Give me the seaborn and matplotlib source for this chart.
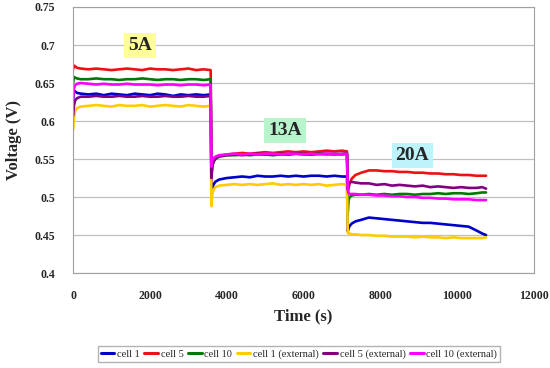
import matplotlib
matplotlib.use("Agg")
import matplotlib.pyplot as plt
import pandas as pd
import seaborn as sns

# time points (s) for each current step
t_5a = [0, 20, 50, 100, 200, 400, 600, 800, 1000, 1200, 1400, 1600, 1800, 2000,
        2200, 2400, 2600, 2800, 3000, 3200, 3400, 3580]
t_13a = [3600, 3620, 3650, 3700, 3800, 4000, 4200, 4400, 4600, 4800, 5000, 5200,
         5400, 5600, 5800, 6000, 6200, 6400, 6600, 6800, 7000, 7130]
t_20a = [7150, 7170, 7200, 7250, 7350, 7500, 7700, 7900, 8100, 8300, 8500, 8700,
         8900, 9100, 9300, 9500, 9700, 9900, 10100, 10300, 10500, 10650, 10750]

# cell 1
cell1_5a = [0.628, 0.640, 0.639, 0.637, 0.636, 0.635, 0.636, 0.634, 0.636, 0.635, 0.634,
            0.636, 0.635, 0.634, 0.636, 0.635, 0.633, 0.635, 0.634, 0.635, 0.634, 0.635]
cell1_13a = [0.500, 0.510, 0.516, 0.520, 0.523, 0.525, 0.526, 0.527, 0.526, 0.528, 0.527,
             0.527, 0.528, 0.527, 0.528, 0.527, 0.528, 0.528, 0.527, 0.528, 0.527, 0.527]
cell1_20a = [0.455, 0.459, 0.462, 0.465, 0.468, 0.470, 0.473, 0.472, 0.471, 0.470, 0.469, 0.468,
             0.467, 0.466, 0.466, 0.465, 0.464, 0.463, 0.462, 0.461, 0.456, 0.452, 0.450]
# cell 5
cell5_5a = [0.668, 0.673, 0.672, 0.670, 0.669, 0.668, 0.669, 0.668, 0.667, 0.668, 0.669,
            0.668, 0.667, 0.669, 0.668, 0.668, 0.667, 0.668, 0.669, 0.667, 0.668, 0.667]
cell5_13a = [0.530, 0.540, 0.546, 0.550, 0.554, 0.556, 0.557, 0.558, 0.557, 0.558, 0.559,
             0.558, 0.559, 0.560, 0.559, 0.560, 0.559, 0.560, 0.561, 0.560, 0.561, 0.560]
cell5_20a = [0.505, 0.512, 0.518, 0.524, 0.529, 0.532, 0.535, 0.535, 0.534, 0.534, 0.533, 0.533,
             0.532, 0.532, 0.531, 0.531, 0.530, 0.530, 0.529, 0.529, 0.528, 0.528, 0.528]
# cell 10
cell10_5a = [0.650, 0.658, 0.657, 0.656, 0.655, 0.655, 0.656, 0.655, 0.655, 0.654, 0.655,
             0.655, 0.656, 0.655, 0.654, 0.655, 0.655, 0.654, 0.655, 0.655, 0.654, 0.655]
cell10_13a = [0.528, 0.540, 0.546, 0.550, 0.553, 0.555, 0.555, 0.556, 0.555, 0.556, 0.556,
              0.555, 0.556, 0.556, 0.557, 0.556, 0.556, 0.557, 0.556, 0.557, 0.556, 0.557]
cell10_20a = [0.480, 0.496, 0.500, 0.502, 0.503, 0.503, 0.504, 0.503, 0.504, 0.503, 0.504, 0.504,
              0.503, 0.504, 0.504, 0.505, 0.504, 0.505, 0.505, 0.504, 0.505, 0.506, 0.506]
# cell 1 (external)
ext1_5a = [0.588, 0.605, 0.613, 0.617, 0.619, 0.620, 0.621, 0.620, 0.619, 0.621, 0.620,
           0.620, 0.621, 0.619, 0.620, 0.621, 0.620, 0.619, 0.621, 0.620, 0.619, 0.620]
ext1_13a = [0.488, 0.503, 0.509, 0.513, 0.515, 0.516, 0.517, 0.516, 0.517, 0.516, 0.517,
            0.518, 0.516, 0.517, 0.516, 0.517, 0.516, 0.517, 0.515, 0.516, 0.517, 0.516]
ext1_20a = [0.453, 0.452, 0.452, 0.451, 0.451, 0.450, 0.450, 0.449, 0.449, 0.448, 0.448, 0.448,
            0.447, 0.448, 0.447, 0.447, 0.446, 0.447, 0.446, 0.446, 0.446, 0.446, 0.447]
# cell 5 (external)
ext5_5a = [0.607, 0.620, 0.627, 0.630, 0.632, 0.632, 0.633, 0.632, 0.632, 0.633, 0.632,
           0.632, 0.633, 0.632, 0.632, 0.633, 0.632, 0.632, 0.633, 0.632, 0.632, 0.633]
ext5_13a = [0.525, 0.540, 0.547, 0.551, 0.554, 0.555, 0.556, 0.555, 0.556, 0.557, 0.556,
            0.556, 0.557, 0.556, 0.557, 0.557, 0.556, 0.557, 0.557, 0.556, 0.557, 0.557]
ext5_20a = [0.510, 0.516, 0.519, 0.520, 0.519, 0.518, 0.518, 0.516, 0.517, 0.515, 0.516, 0.515,
            0.514, 0.515, 0.513, 0.514, 0.513, 0.512, 0.513, 0.512, 0.512, 0.513, 0.511]
# cell 10 (external)
ext10_5a = [0.630, 0.643, 0.647, 0.649, 0.650, 0.649, 0.648, 0.649, 0.648, 0.648, 0.649,
            0.648, 0.648, 0.648, 0.647, 0.648, 0.648, 0.647, 0.648, 0.648, 0.647, 0.648]
ext10_13a = [0.540, 0.548, 0.551, 0.553, 0.555, 0.556, 0.557, 0.556, 0.557, 0.556, 0.557,
             0.557, 0.556, 0.557, 0.557, 0.556, 0.557, 0.556, 0.557, 0.557, 0.556, 0.557]
ext10_20a = [0.510, 0.505, 0.504, 0.504, 0.504, 0.503, 0.503, 0.502, 0.502, 0.501, 0.501, 0.500,
             0.500, 0.499, 0.499, 0.498, 0.498, 0.497, 0.497, 0.497, 0.496, 0.496, 0.496]

series = {
    "cell 1": (cell1_5a, cell1_13a, cell1_20a),
    "cell 5": (cell5_5a, cell5_13a, cell5_20a),
    "cell 10": (cell10_5a, cell10_13a, cell10_20a),
    "cell 1 (external)": (ext1_5a, ext1_13a, ext1_20a),
    "cell 5 (external)": (ext5_5a, ext5_13a, ext5_20a),
    "cell 10 (external)": (ext10_5a, ext10_13a, ext10_20a),
}
colors = ["#0000cc", "#ee1111", "#007a00", "#ffcc00", "#800080", "#ff00ff"]

times = t_5a + t_13a + t_20a
rows = []
for name, parts in series.items():
    vals = parts[0] + parts[1] + parts[2]
    for t, v in zip(times, vals):
        rows.append({"time": t, "voltage": v, "cell": name})
df = pd.DataFrame(rows)

sns.set_style("white")
plt.rcParams["font.family"] = ["Liberation Serif", "DejaVu Serif"]
plt.rcParams["font.weight"] = "bold"

fig = plt.figure(figsize=(5.5, 3.68), dpi=100)
ax = fig.add_axes([0.133, 0.258, 0.838, 0.723])
sns.lineplot(data=df, x="time", y="voltage", hue="cell", palette=colors,
             linewidth=1.9, ax=ax, legend=True)

ax.set_xlim(0, 12000)
ax.set_ylim(0.4, 0.75)
ax.set_xticks(range(0, 12001, 2000))
ax.set_yticks([0.4, 0.45, 0.5, 0.55, 0.6, 0.65, 0.7, 0.75])
ax.set_yticklabels(["0.4", "0.45", "0.5", "0.55", "0.6", "0.65", "0.7", "0.75"])
ax.yaxis.grid(True, color="#c0c0c0", linewidth=0.9)
for s in ax.spines.values():
    s.set_color("#a0a0a0")
ax.tick_params(axis="x", direction="in", length=3, color="#a0a0a0", labelsize=8.5, pad=12)
ax.tick_params(axis="y", length=0, labelsize=8.5, pad=13)
for lbl in ax.get_xticklabels() + ax.get_yticklabels():
    lbl.set_fontweight("bold")
ax.set_xlabel("Time (s)", fontsize=12, fontweight="bold", labelpad=5)
ax.set_ylabel("Voltage (V)", fontsize=12, fontweight="bold", labelpad=9)

box = dict(boxstyle="square,pad=0.2", edgecolor="none")
ax.text(1745, 0.699, "5A", fontsize=14, fontweight="bold", ha="center", va="center",
        bbox=dict(box, facecolor="#ffff99"))
ax.text(5520, 0.588, "13A", fontsize=14, fontweight="bold", ha="center", va="center",
        bbox=dict(box, facecolor="#b8f5cc"))
ax.text(8830, 0.555, "20A", fontsize=14, fontweight="bold", ha="center", va="center",
        bbox=dict(box, facecolor="#bdf3fb"))

leg = ax.legend(loc="upper center", bbox_to_anchor=(0.49, -0.255), ncol=6,
                fontsize=7.5, frameon=True, fancybox=False, handlelength=1.3,
                handletextpad=0.25, columnspacing=0.45, borderpad=0.3)
leg.get_frame().set_edgecolor("#a0a0a0")
for line in leg.get_lines():
    line.set_linewidth(2.2)
for txt in leg.get_texts():
    txt.set_fontweight("normal")

fig.savefig("out.png", dpi=100)
